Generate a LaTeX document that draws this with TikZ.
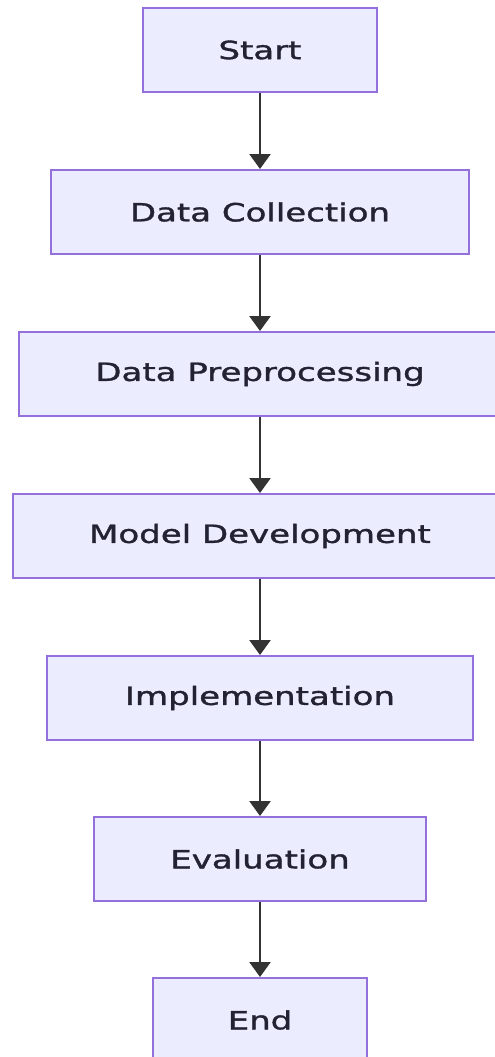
\documentclass[tikz,border=0pt]{standalone}
\usepackage{fontspec}
\newfontfamily\nodefont[FakeStretch=1.36,FakeBold=1.4]{DejaVu Sans}
\usetikzlibrary{arrows.meta}
\definecolor{boxfill}{HTML}{ECECFF}
\definecolor{boxline}{HTML}{9370DB}
\definecolor{ink}{HTML}{333333}
\definecolor{txt}{HTML}{222233}
\tikzset{
  flowbox/.style={draw=boxline, fill=boxfill, line width=2pt, rectangle,
    minimum height=84pt, inner sep=0pt, text=txt,
    font=\nodefont\fontsize{25pt}{28pt}\selectfont},
  flowarrow/.style={draw=ink, line width=2.6pt,
    -{Triangle[width=21pt,length=15pt]}}
}
\begin{document}
\begin{tikzpicture}[x=1pt,y=-1pt]
\useasboundingbox (0,0) rectangle (495,1057);
\node[flowbox, minimum width=234pt] (start) at (260,50) {Start};
\node[flowbox, minimum width=418pt] (dc) at (260,212) {Data Collection};
\node[flowbox, minimum width=482pt] (dp) at (260,374) {Data Preprocessing};
\node[flowbox, minimum width=494pt] (md) at (260,536) {Model Development};
\node[flowbox, minimum width=426pt] (impl) at (260,698) {Implementation};
\node[flowbox, minimum width=332pt] (eval) at (260,859) {Evaluation};
\node[flowbox, minimum width=214pt] (end) at (260,1020) {End};
\draw[flowarrow] (start) -- (dc);
\draw[flowarrow] (dc) -- (dp);
\draw[flowarrow] (dp) -- (md);
\draw[flowarrow] (md) -- (impl);
\draw[flowarrow] (impl) -- (eval);
\draw[flowarrow] (eval) -- (end);
\end{tikzpicture}
\end{document}
